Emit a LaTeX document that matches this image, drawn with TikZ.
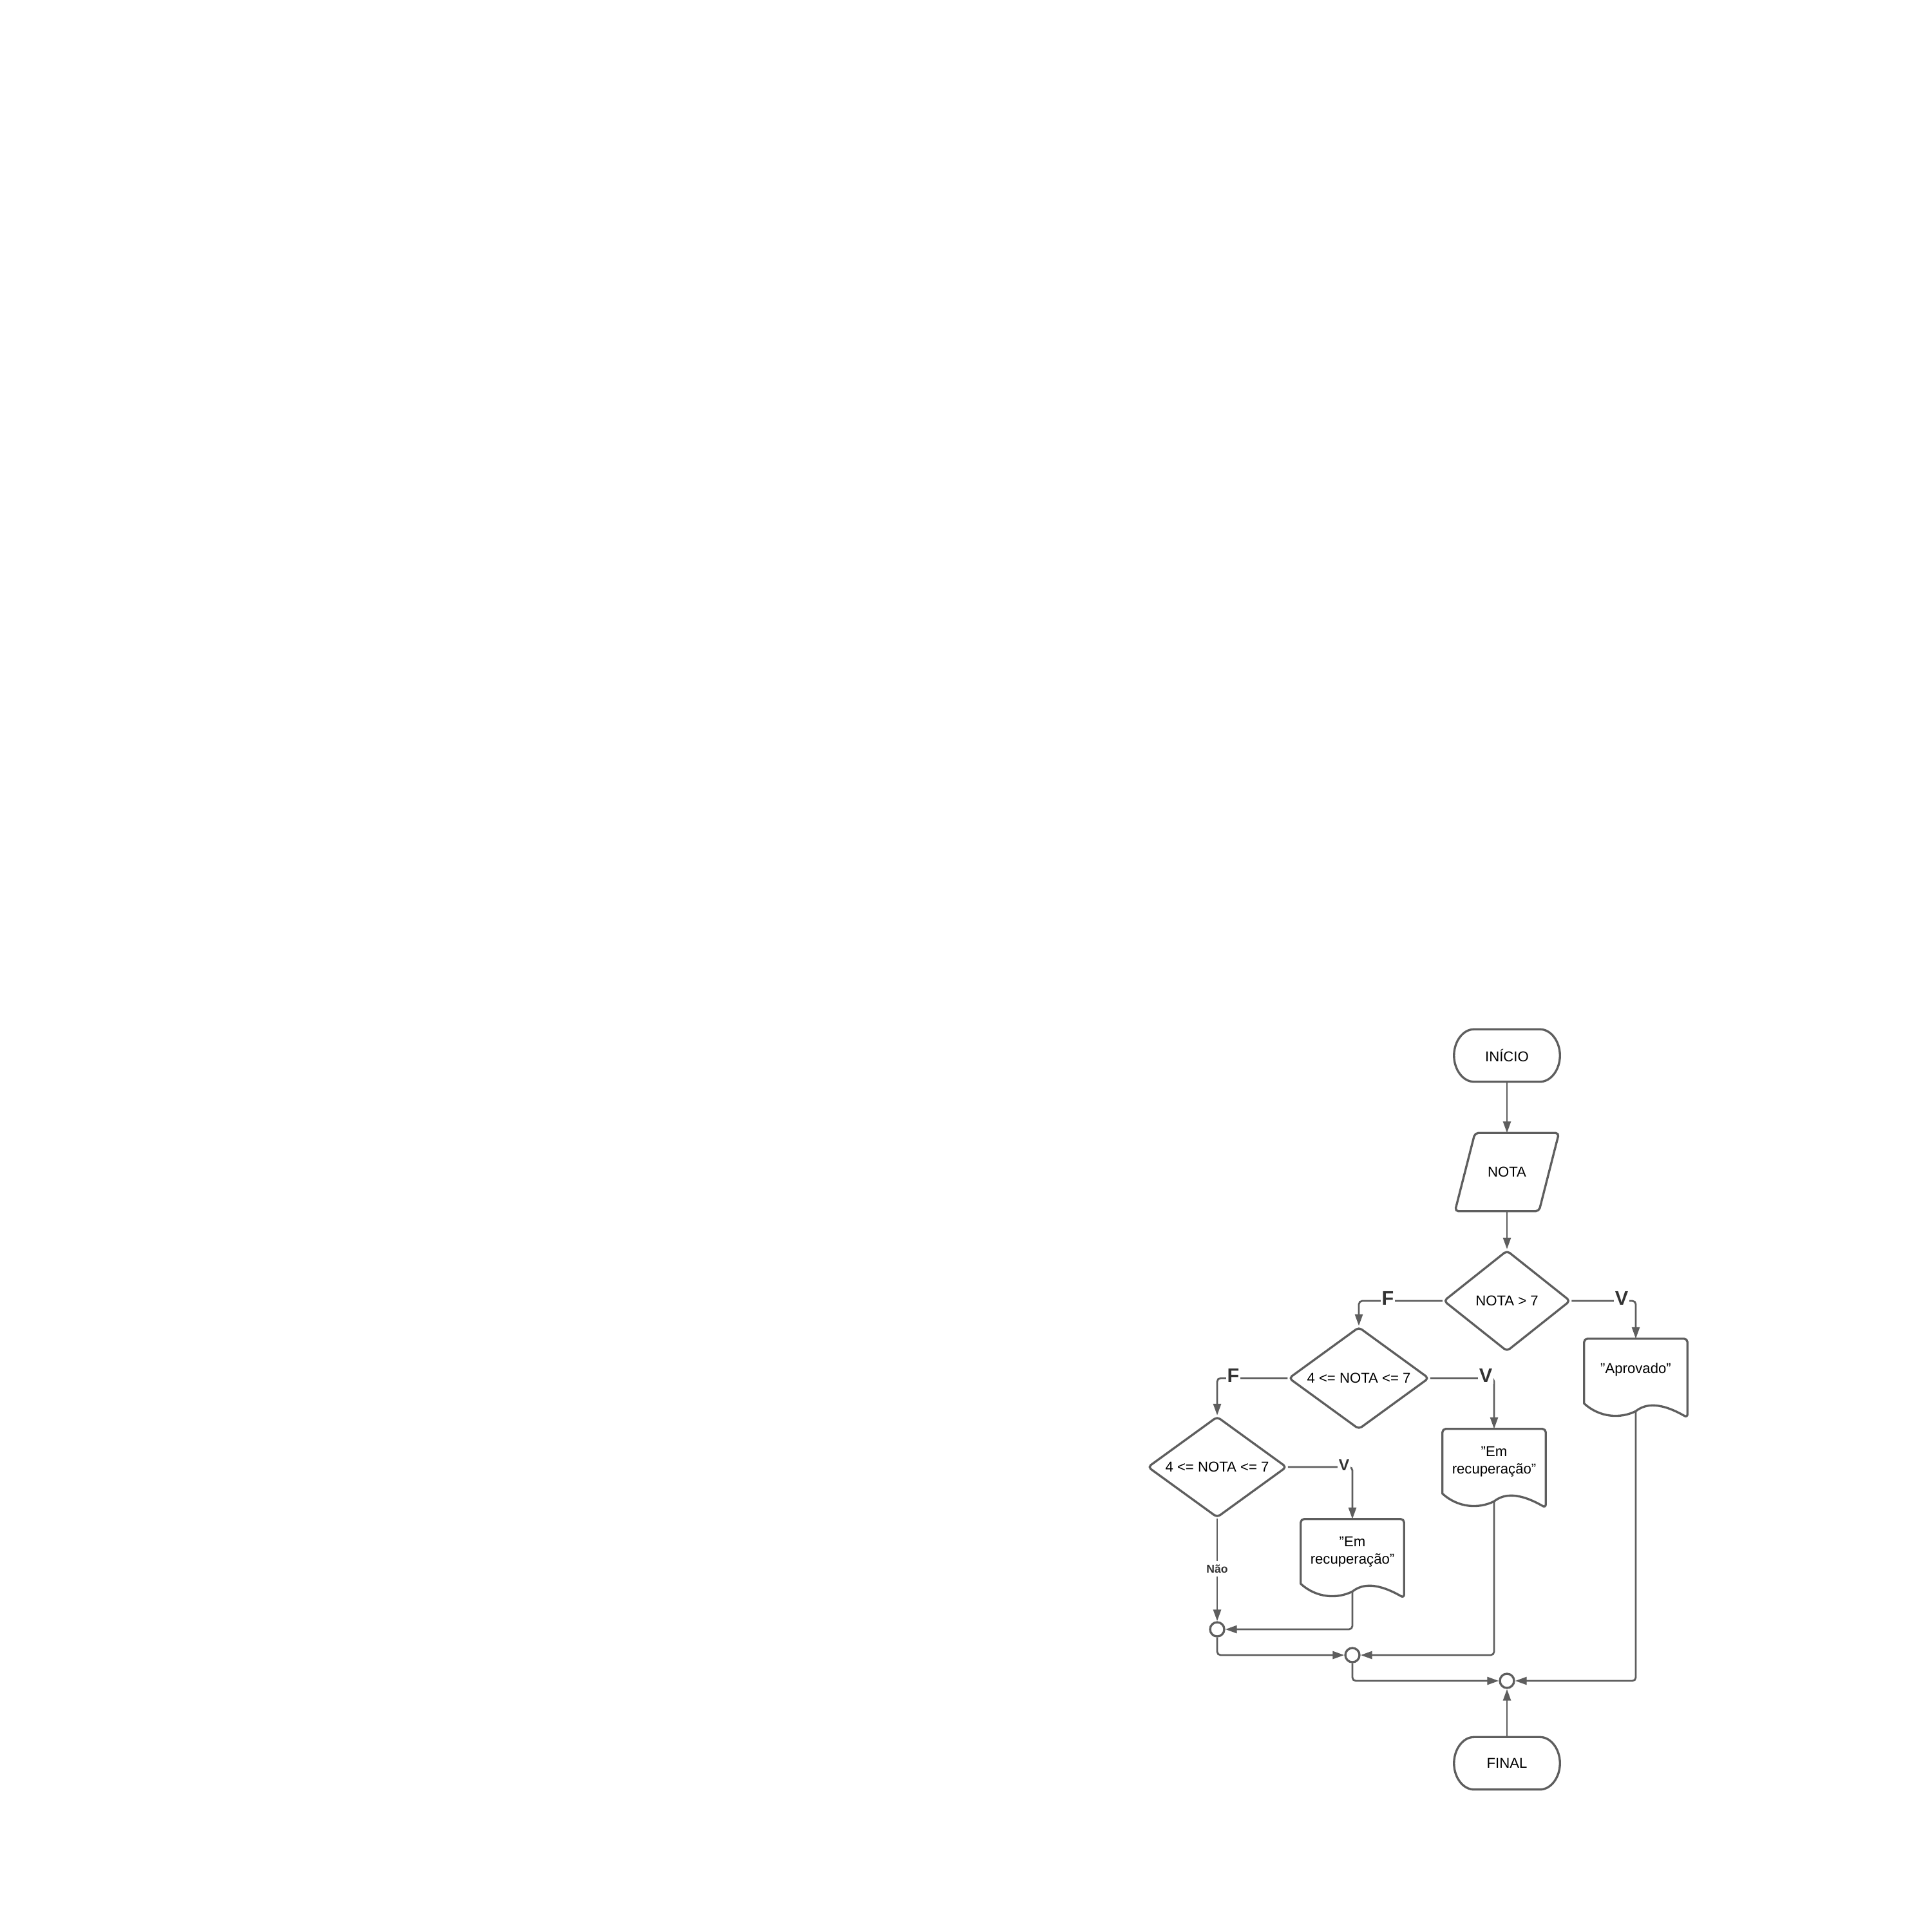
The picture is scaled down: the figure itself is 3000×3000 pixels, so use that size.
\documentclass[tikz,border=0pt]{standalone}
\usepackage{fontspec}
\setmainfont{Liberation Sans}
\usetikzlibrary{arrows.meta,shapes.geometric,calc}
\definecolor{ln}{HTML}{5E5E5E}
\definecolor{lbl}{HTML}{333333}
\tikzset{
  shp/.style={draw=ln, line width=0.95pt, line join=round},
  conn/.style={draw=ln, line width=0.8pt, rounded corners=1.5pt, -{Triangle[length=0.18cm,width=0.12cm]}},
  txt/.style={font=\fontsize{6.3}{7.7}\selectfont, align=center, inner sep=0pt, text=black},
  decbox/.style={shp, diamond, inner sep=0pt, shape aspect=1.3, rounded corners=1.5pt, font=\fontsize{6.3}{7.7}\selectfont},
  docbox/.style={inner sep=0pt, minimum width=1.59cm, minimum height=1.21cm},
  biglbl/.style={font=\fontsize{8.7}{9}\selectfont\bfseries, text=lbl, fill=white, inner sep=0.6pt},
  smalllbl/.style={font=\fontsize{7}{8}\selectfont\bfseries, text=lbl, fill=white, inner sep=0.6pt},
  naolbl/.style={font=\fontsize{5}{6}\selectfont\bfseries, text=lbl, fill=white, inner sep=1.5pt},
  junc/.style={shp, circle, minimum size=0.22cm, inner sep=0pt, fill=white},
}
\newcommand\termshape[1]{%
  \draw[shp] ($(#1.north west)+(31,0)$) -- ($(#1.north east)+(-31,0)$)
    .. controls ($(#1.north east)+(-14,0)$) and ($(#1.east)+(0,-22)$) .. (#1.east)
    .. controls ($(#1.east)+(0,22)$) and ($(#1.south east)+(-14,0)$) .. ($(#1.south east)+(-31,0)$)
    -- ($(#1.south west)+(31,0)$)
    .. controls ($(#1.south west)+(14,0)$) and ($(#1.west)+(0,22)$) .. (#1.west)
    .. controls ($(#1.west)+(0,-22)$) and ($(#1.north west)+(14,0)$) .. cycle;}
\newcommand\paraShape[1]{%
  \draw[shp, rounded corners=1.5pt] ($(#1.north west)+(31,0)$) -- (#1.north east)
    -- ($(#1.south east)+(-31,0)$) -- (#1.south west) -- cycle;}
\newcommand\docshape[1]{%
  \draw[shp] ($(#1.north west)+(0,99)$) [rounded corners=1.5pt] -- (#1.north west) -- (#1.north east) -- (#1.south east) [sharp corners]
    .. controls ($(#1.south east)+(-40,-23)$) and ($(#1.south east)+(-64,-23)$) .. ($(#1.south)+(0,-10)$)
    .. controls ($(#1.south)+(-24,2)$) and ($(#1.south west)+(24,0)$) .. ($(#1.south west)+(0,-22)$) -- cycle;}
\begin{document}
\begin{tikzpicture}[x=0.01cm,y=-0.01cm]
\fill[white] (0,0) rectangle (3000,3000);
\useasboundingbox (0,0) rectangle (3000,3000);

% nodes
\node[txt, minimum width=1.63cm, minimum height=0.80cm] (ini) at (2340,1639) {INÍCIO};
\termshape{ini}
\node[txt, minimum width=1.60cm, minimum height=1.20cm] (nota) at (2340,1820) {NOTA};
\paraShape{nota}
\node[decbox, minimum width=1.97cm, minimum height=1.57cm] (d1) at (2340,2020) {NOTA > 7};
\node[decbox, minimum width=2.18cm, minimum height=1.59cm] (d2) at (2110,2140) {4 <= NOTA <= 7};
\node[decbox, minimum width=2.16cm, minimum height=1.57cm] (d3) at (1890,2278) {4 <= NOTA <= 7};

\node[docbox] (apr) at (2540,2140) {};
\docshape{apr}
\node[txt] (aprt) at ($(apr.north)+(0,48)$) {"Aprovado"};
\coordinate (aprb) at ($(apr.south)+(0,-10)$);

\node[docbox] (em1) at (2320,2280) {};
\docshape{em1}
\node[txt] (em1t) at ($(em1.north)+(0,51)$) {"Em\\recuperação"};
\coordinate (em1b) at ($(em1.south)+(0,-10)$);

\node[docbox] (em2) at (2100,2420) {};
\docshape{em2}
\node[txt] (em2t) at ($(em2.north)+(0,51)$) {"Em\\recuperação"};
\coordinate (em2b) at ($(em2.south)+(0,-10)$);

\node[junc] (j1) at (1890,2530) {};
\node[junc] (j2) at (2100,2570) {};
\node[junc] (j3) at (2340,2610) {};

\node[txt, minimum width=1.63cm, minimum height=0.80cm] (fin) at (2340,2738) {FINAL};
\termshape{fin}

% connectors
\draw[conn] (ini.south) -- (nota.north);
\draw[conn] (nota.south) -- (d1.north);
\draw[conn] (d1.west) -| (d2.north);
\draw[conn] (d1.east) -| (apr.north);
\draw[conn] (d2.west) -| (d3.north);
\draw[conn] (d2.east) -| (em1.north);
\draw[conn] (d3.east) -| (em2.north);
\draw[conn] (d3.south) -- (j1.north);
\draw[conn] (em2b) |- (j1.east);
\draw[conn] (j1.south) |- (j2.west);
\draw[conn] (em1b) |- (j2.east);
\draw[conn] (j2.south) |- (j3.west);
\draw[conn] (aprb) |- (j3.east);
\draw[conn] (fin.north) -- (j3.south);

% labels
\node[biglbl] (lf1) at (2155,2016) {F};
\node[biglbl] (lv1) at (2518,2016) {V};
\node[biglbl] (lf2) at (1915,2136) {F};
\node[biglbl] (lv2) at (2307,2136) {V};
\node[smalllbl] (lv3) at (2087,2275) {V};
\node[naolbl] (lnao) at (1890,2436) {Não};
\end{tikzpicture}
\end{document}
